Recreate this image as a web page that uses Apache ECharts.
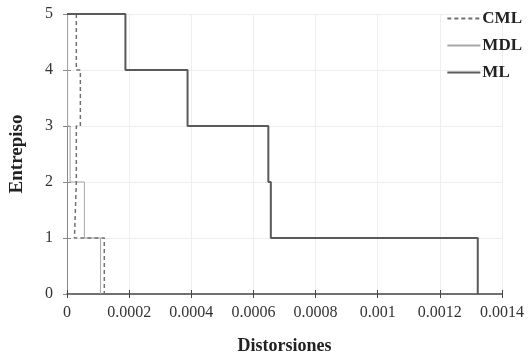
<!DOCTYPE html>
<html><head><meta charset="utf-8">
<script src="https://cdn.jsdelivr.net/npm/echarts@6/dist/echarts.min.js"></script>
<style>html,body{margin:0;padding:0;background:#fff}#c{width:528px;height:360px}</style>
</head><body><div id="c"></div>
<script>
// Step-profile points (drift, storey)
const cmlX = [0.00003, 0.00003, 0.000043, 0.000043, 0.00003, 0.00003, 0.000024, 0.000024, 0.00012, 0.00012];
const cmlY = [5, 4, 4, 3, 3, 2, 2, 1, 1, 0];
const mdlX = [0.000002, 0.000002, 0.00001, 0.00001, 0.000056, 0.000056, 0.000108, 0.000108];
const mdlY = [5, 3, 3, 2, 2, 1, 1, 0];
const mlX = [0, 0.000188, 0.000188, 0.000388, 0.000388, 0.000648, 0.000648, 0.000656, 0.000656, 0.001322, 0.001322];
const mlY = [5, 5, 4, 4, 3, 3, 2, 2, 1, 1, 0];
const seriesNames = ['CML', 'MDL', 'ML'];
const xTicks = [0, 0.0002, 0.0004, 0.0006, 0.0008, 0.001, 0.0012, 0.0014];
const yTicks = [0, 1, 2, 3, 4, 5];

const zip = (xs, ys) => xs.map((x, i) => [x, ys[i]]);
const serif = '"Liberation Serif", "DejaVu Serif", serif';
const chart = echarts.init(document.getElementById('c'), null, {renderer: 'canvas'});
chart.setOption({
  animation: false,
  backgroundColor: '#fff',
  grid: {left: 67, right: 26, top: 14, bottom: 66},
  legend: {
    orient: 'vertical', right: 1, top: 5, itemGap: 10, itemWidth: 33, itemHeight: 14,
    data: seriesNames,
    itemStyle: {opacity: 0},
    textStyle: {fontFamily: serif, fontWeight: 'bold', fontSize: 17, color: '#222', padding: [0, 0, 0, -3]}
  },
  xAxis: [{
    type: 'value', min: xTicks[0], max: xTicks[xTicks.length - 1], interval: 0.0002,
    name: 'Distorsiones', nameLocation: 'middle', nameGap: 43,
    nameTextStyle: {fontFamily: serif, fontWeight: 'bold', fontSize: 18, color: '#222'},
    axisLine: {onZero: false, lineStyle: {color: '#444', width: 1.5}},
    axisTick: {length: 4, lineStyle: {color: '#444'}},
    axisLabel: {fontFamily: serif, fontSize: 16, color: '#333', margin: 11,
      formatter: v => String(parseFloat(v.toFixed(4)))},
    splitLine: {show: true, lineStyle: {color: '#eeeeee', width: 1}}
  }, {
    type: 'value', min: xTicks[0], max: xTicks[xTicks.length - 1], interval: 0.0002, position: 'bottom',
    axisLine: {show: false}, axisTick: {inside: true, length: 4, lineStyle: {color: '#444'}},
    axisLabel: {show: false}, splitLine: {show: false}
  }],
  yAxis: [{
    type: 'value', min: yTicks[0], max: yTicks[yTicks.length - 1], interval: 1,
    name: 'Entrepiso', nameLocation: 'middle', nameGap: 40,
    nameTextStyle: {fontFamily: serif, fontWeight: 'bold', fontSize: 19, color: '#222'},
    axisLine: {show: true, onZero: false, lineStyle: {color: '#888', width: 1}},
    axisTick: {show: true, length: 4, lineStyle: {color: '#888'}},
    axisLabel: {fontFamily: serif, fontSize: 16, color: '#333', margin: 14},
    splitLine: {show: true, lineStyle: {color: '#eeeeee', width: 1}}
  }, {
    type: 'value', min: yTicks[0], max: yTicks[yTicks.length - 1], interval: 1, position: 'left',
    axisLine: {show: false}, axisTick: {show: true, inside: true, length: 4, lineStyle: {color: '#888'}},
    axisLabel: {show: false}, splitLine: {show: false}
  }],
  series: [
    {name: 'CML', type: 'line', data: zip(cmlX, cmlY), symbol: 'none', z: 3,
     lineStyle: {color: '#707070', width: 1.5, type: [4, 3]}, itemStyle: {color: '#707070'}},
    {name: 'MDL', type: 'line', data: zip(mdlX, mdlY), symbol: 'none', z: 2,
     lineStyle: {color: '#a8a8a8', width: 1}, itemStyle: {color: '#a8a8a8'}},
    {name: 'ML', type: 'line', data: zip(mlX, mlY), symbol: 'none', z: 4,
     lineStyle: {color: '#5a5a5a', width: 2}, itemStyle: {color: '#5a5a5a'}}
  ]
});
</script></body></html>
